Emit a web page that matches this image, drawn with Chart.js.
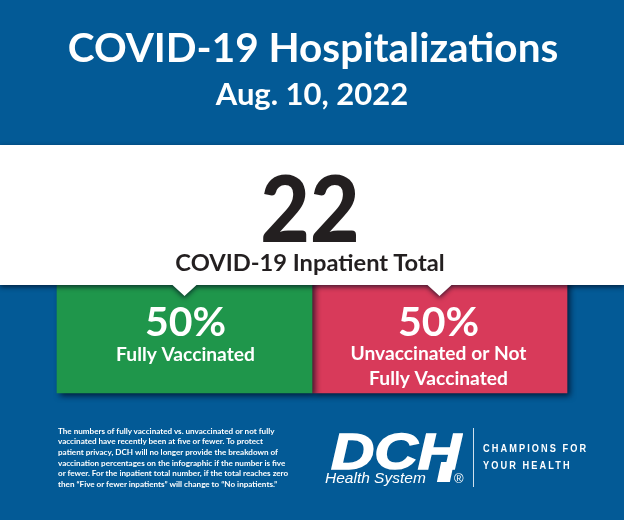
<!DOCTYPE html>
<html>
<head>
<meta charset="utf-8">
<title>COVID-19 Hospitalizations</title>
<script src="https://cdn.jsdelivr.net/npm/chart.js@4"></script>
<style>
  html, body { margin:0; padding:0; background:#035a96; }
  #wrap { position:relative; width:624px; height:520px; overflow:hidden; background:#035a96; font-family:Lato, sans-serif; }
  #grafico { position:absolute; left:0; top:0; }
  .txt { position:absolute; white-space:nowrap; font-weight:700; line-height:1; }
  .centro { left:0; width:624px; text-align:center; }
  .slogan { left:483px; font:700 11.5px 'Liberation Sans'; letter-spacing:2.6px; color:#fff; transform:scaleX(.8); transform-origin:left top; }
</style>
</head>
<body>
<div id="wrap">
  <canvas id="grafico" width="624" height="520"></canvas>

  <div class="txt centro" id="titulo" style="top:27px;left:1px;font-size:40.5px;color:#fff;"></div>
  <div class="txt centro" id="data" style="top:78px;font-size:31px;color:#fff;"></div>
  <div class="txt centro" id="total" style="top:161px;left:-2px;font-size:92px;font-weight:900;color:#231f20;transform:scaleX(.93);"></div>
  <div class="txt centro" id="totalRotulo" style="top:251px;left:-2px;font-size:23.7px;color:#231f20;"></div>

  <div class="txt" id="nota" style="left:58px;top:425.5px;font-size:8.1px;line-height:10.7px;color:#fff;"></div>

  <!-- logo -->
  <div class="txt" style="left:331px;top:423px;font:italic 700 50px 'Liberation Sans';color:#fff;-webkit-text-stroke:1.5px #fff;transform:scaleX(1.2);transform-origin:left top;">DCH</div>
  <div style="position:absolute;left:439px;top:462px;width:13px;height:20px;background:#fff;transform:skewX(-12deg);"></div>
  <div class="txt" style="left:325px;top:469px;font:italic 400 15.5px 'Liberation Sans';color:#fff;">Health System</div>
  <div class="txt" style="left:454px;top:471px;font:400 13px 'Liberation Sans';color:#fff;">®</div>
  <div style="position:absolute;left:473px;top:428px;width:1px;height:59px;background:#cfe0ec;"></div>
  <div class="txt slogan" style="top:442px;">CHAMPIONS FOR</div>
  <div class="txt slogan" style="top:459px;">YOUR HEALTH</div>
</div>

<script>
// ===============================
// DADOS
// ===============================
const categorias = ["Inpatients"];
const vacinados = [50];
const naoVacinados = [50];
const rotuloVacinados = ["Fully Vaccinated"];
const rotuloNaoVacinados = ["Unvaccinated or Not", "Fully Vaccinated"];
const totalInternados = 22;
const titulo = "COVID-19 Hospitalizations";
const dataTexto = "Aug. 10, 2022";
const totalTexto = "COVID-19 Inpatient Total";
const notaLinhas = [
  "The numbers of fully vaccinated vs. unvaccinated or not fully",
  "vaccinated have recently been at five or fewer. To protect",
  "patient privacy, DCH will no longer provide the breakdown of",
  "vaccination percentages on the infographic if the number is five",
  "or fewer. For the inpatient total number, if the total reaches zero",
  "then “Five or fewer inpatients” will change to “No inpatients.”"
];

document.getElementById("titulo").textContent = titulo;
document.getElementById("data").textContent = dataTexto;
document.getElementById("total").textContent = totalInternados;
document.getElementById("totalRotulo").textContent = totalTexto;
document.getElementById("nota").innerHTML = notaLinhas.join("<br>");

// ===============================
// SOMBRA DAS BARRAS
// ===============================
const sombraBarras = {
  id: "sombraBarras",
  beforeDatasetDraw(chart){
    const ctx = chart.ctx;
    ctx.save();
    ctx.shadowColor = "rgba(0,10,30,.75)";
    ctx.shadowBlur = 6;
    ctx.shadowOffsetX = 3;
    ctx.shadowOffsetY = 3;
  },
  afterDatasetDraw(chart){
    chart.ctx.restore();
  }
};

// ===============================
// FAIXA BRANCA + RÓTULOS
// ===============================
const faixaBranca = {
  id: "faixaBranca",
  afterDatasetsDraw(chart){
    const ctx = chart.ctx;
    const centros = [0, 1].map(i => {
      const b = chart.getDatasetMeta(i).data[0];
      return (b.x + b.base) / 2;
    });

    // faixa com as duas setas apontando para as barras
    ctx.save();
    ctx.shadowColor = "rgba(0,10,30,.7)";
    ctx.shadowBlur = 5;
    ctx.shadowOffsetY = 2;
    ctx.fillStyle = "#fff";
    ctx.beginPath();
    ctx.moveTo(0, 145);
    ctx.lineTo(624, 145);
    ctx.lineTo(624, 285);
    centros.slice().reverse().forEach(x => {
      ctx.lineTo(x + 12, 285);
      ctx.lineTo(x, 296);
      ctx.lineTo(x - 12, 285);
    });
    ctx.lineTo(0, 285);
    ctx.closePath();
    ctx.fill();
    ctx.restore();

    // rótulos das barras
    ctx.save();
    ctx.fillStyle = "#fff";
    ctx.textAlign = "center";
    ctx.textBaseline = "alphabetic";
    const desenha = (x, valor, linhas, ys) => {
      ctx.font = "700 41px Lato";
      ctx.fillText(valor + "%", x, 336);
      ctx.font = "700 19.2px Lato";
      linhas.forEach((l, i) => ctx.fillText(l, x, ys[i]));
    };
    desenha(centros[0] + 1, vacinados[0], rotuloVacinados, [361]);
    desenha(centros[1] - 1, naoVacinados[0], rotuloNaoVacinados, [360, 385]);
    ctx.restore();
  }
};

// ===============================
// GRÁFICO
// ===============================
new Chart(document.getElementById("grafico"), {
  type: "bar",
  data: {
    labels: categorias,
    datasets: [
      { label: rotuloVacinados.join(" "), data: vacinados, backgroundColor: "#1f964b", clip: false },
      { label: rotuloNaoVacinados.join(" "), data: naoVacinados, backgroundColor: "#d83a5a", clip: false }
    ]
  },
  options: {
    indexAxis: "y",
    responsive: false,
    animation: false,
    events: [],
    layout: { padding: { left: 57, right: 57, top: 265, bottom: 127 } },
    datasets: { bar: { categoryPercentage: 1, barPercentage: 1 } },
    plugins: { legend: { display: false }, tooltip: { enabled: false } },
    scales: {
      x: { stacked: true, display: false, min: 0, max: 100 },
      y: { stacked: true, display: false }
    }
  },
  plugins: [sombraBarras, faixaBranca]
});
</script>
</body>
</html>
